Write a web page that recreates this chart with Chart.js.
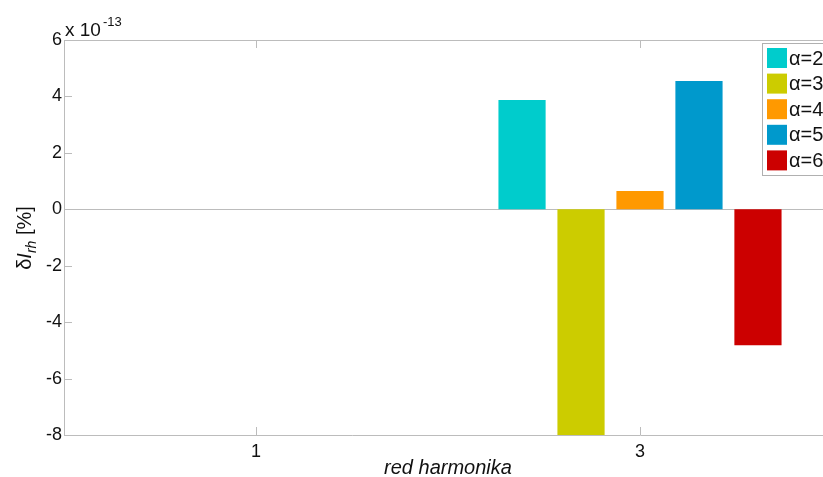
<!DOCTYPE html>
<html>
<head>
<meta charset="utf-8">
<script src="https://cdn.jsdelivr.net/npm/chart.js@4/dist/chart.umd.min.js"></script>
<style>
html,body{margin:0;padding:0;overflow:hidden;background:#fff}
</style>
</head>
<body>
<canvas id="c" width="1280" height="477"></canvas>
<script>
// values in units of 1e-13 %
var harmonics = ['1', '3', '5'];
var alphaNames = ['α=2', 'α=3', 'α=4', 'α=5', 'α=6'];
var colors = ['#00cccc', '#cccc00', '#ff9900', '#0099cc', '#cc0000'];
var alpha2 = [0, 3.87, null];
var alpha3 = [0, -8.6, null];
var alpha4 = [0, 0.65, null];
var alpha5 = [0, 4.55, null];
var alpha6 = [0, -4.82, null];
var yTicks = [-8, -6, -4, -2, 0, 2, 4, 6];

var series = [alpha2, alpha3, alpha4, alpha5, alpha6];
var datasets = [];
for (var i = 0; i < series.length; i++) {
    datasets.push({
        label: alphaNames[i],
        data: series[i],
        backgroundColor: colors[i],
        borderWidth: 0,
        categoryPercentage: 0.768,
        barPercentage: 0.8
    });
}

var FONT = "'Liberation Sans', Arial, sans-serif";
var AXIS = '#bcbcbc';

function seg(ctx, x1, y1, x2, y2) {
    ctx.beginPath();
    ctx.moveTo(x1, y1);
    ctx.lineTo(x2, y2);
    ctx.stroke();
}

var decor = {
    id: 'decor',
    beforeDatasetsDraw: function (chart) {
        var ctx = chart.ctx, a = chart.chartArea, ys = chart.scales.y;
        ctx.save();
        ctx.strokeStyle = AXIS;
        ctx.lineWidth = 1;
        // zero baseline
        var y0 = Math.round(ys.getPixelForValue(0)) + 0.5;
        seg(ctx, a.left, y0, a.right, y0);
        ctx.restore();
    },
    afterDraw: function (chart) {
        var ctx = chart.ctx, a = chart.chartArea, ys = chart.scales.y, xs = chart.scales.x;
        var j, p;
        ctx.save();
        ctx.strokeStyle = AXIS;
        ctx.lineWidth = 1;
        // box top and right
        seg(ctx, a.left, Math.round(a.top) + 0.5, a.right, Math.round(a.top) + 0.5);
        seg(ctx, Math.round(a.right) + 0.5, a.top, Math.round(a.right) + 0.5, a.bottom);
        // inner tick marks
        for (j = 0; j < yTicks.length; j++) {
            p = Math.round(ys.getPixelForValue(yTicks[j])) + 0.5;
            seg(ctx, a.left, p, a.left + 8, p);
            seg(ctx, a.right, p, a.right - 8, p);
        }
        for (j = 0; j < harmonics.length; j++) {
            p = Math.round(xs.getPixelForValue(j)) + 0.5;
            seg(ctx, p, a.bottom, p, a.bottom - 8);
            seg(ctx, p, a.top, p, a.top + 8);
        }

        // exponent label
        ctx.fillStyle = '#111';
        ctx.textBaseline = 'alphabetic';
        ctx.textAlign = 'left';
        ctx.font = '19px ' + FONT;
        ctx.fillText('x 10', 65, 36);
        ctx.font = '13px ' + FONT;
        ctx.fillText('-13', 103, 26);

        // x title
        ctx.font = 'italic 20px ' + FONT;
        ctx.textAlign = 'center';
        ctx.fillText('red harmonika', 448, 474);

        // y title, rotated: δI_rh [%]
        ctx.save();
        ctx.translate(31, 238);
        ctx.rotate(-Math.PI / 2);
        ctx.textAlign = 'left';
        var parts = [
            ['δ', '20px ', 0],
            ['I', 'italic 20px ', 0],
            ['rh', 'italic 14px ', 5],
            [' [%]', '20px ', 0]
        ];
        var total = 0;
        for (j = 0; j < parts.length; j++) {
            ctx.font = parts[j][1] + FONT;
            total += ctx.measureText(parts[j][0]).width;
        }
        var tx = -total / 2;
        for (j = 0; j < parts.length; j++) {
            ctx.font = parts[j][1] + FONT;
            ctx.fillText(parts[j][0], tx, parts[j][2]);
            tx += ctx.measureText(parts[j][0]).width;
        }
        ctx.restore();

        // legend box
        var lx = 762.5, ly = 43.5, lw = 76, lh = 132;
        ctx.fillStyle = '#fff';
        ctx.fillRect(lx, ly, lw, lh);
        ctx.strokeStyle = '#b0b0b0';
        ctx.strokeRect(lx, ly, lw, lh);
        ctx.font = '20px ' + FONT;
        ctx.textBaseline = 'middle';
        ctx.textAlign = 'left';
        for (j = 0; j < alphaNames.length; j++) {
            var ey = 48 + j * 25.6;
            ctx.fillStyle = colors[j];
            ctx.fillRect(767, ey, 20, 20);
            ctx.fillStyle = '#111';
            ctx.fillText(alphaNames[j], 789, ey + 11);
        }
        ctx.restore();
    }
};

new Chart(document.getElementById('c').getContext('2d'), {
    type: 'bar',
    data: { labels: harmonics, datasets: datasets },
    plugins: [decor],
    options: {
        responsive: false,
        animation: false,
        layout: { padding: { top: 40, right: 64, left: 0, bottom: 0 } },
        plugins: { legend: { display: false }, tooltip: { enabled: false } },
        scales: {
            x: {
                type: 'category',
                offset: true,
                grid: { display: false, drawTicks: false },
                border: { display: true, color: AXIS },
                ticks: { font: { family: FONT, size: 18 }, color: '#111', padding: 6 },
                afterFit: function (s) { s.height = 42; }
            },
            y: {
                min: -8,
                max: 6,
                afterBuildTicks: function (s) {
                    s.ticks = yTicks.map(function (v) { return { value: v }; });
                },
                grid: { display: false, drawTicks: false },
                border: { display: true, color: AXIS },
                ticks: { font: { family: FONT, size: 18 }, color: '#111', padding: 2 },
                afterFit: function (s) { s.width = 64; }
            }
        }
    }
});
</script>
</body>
</html>
